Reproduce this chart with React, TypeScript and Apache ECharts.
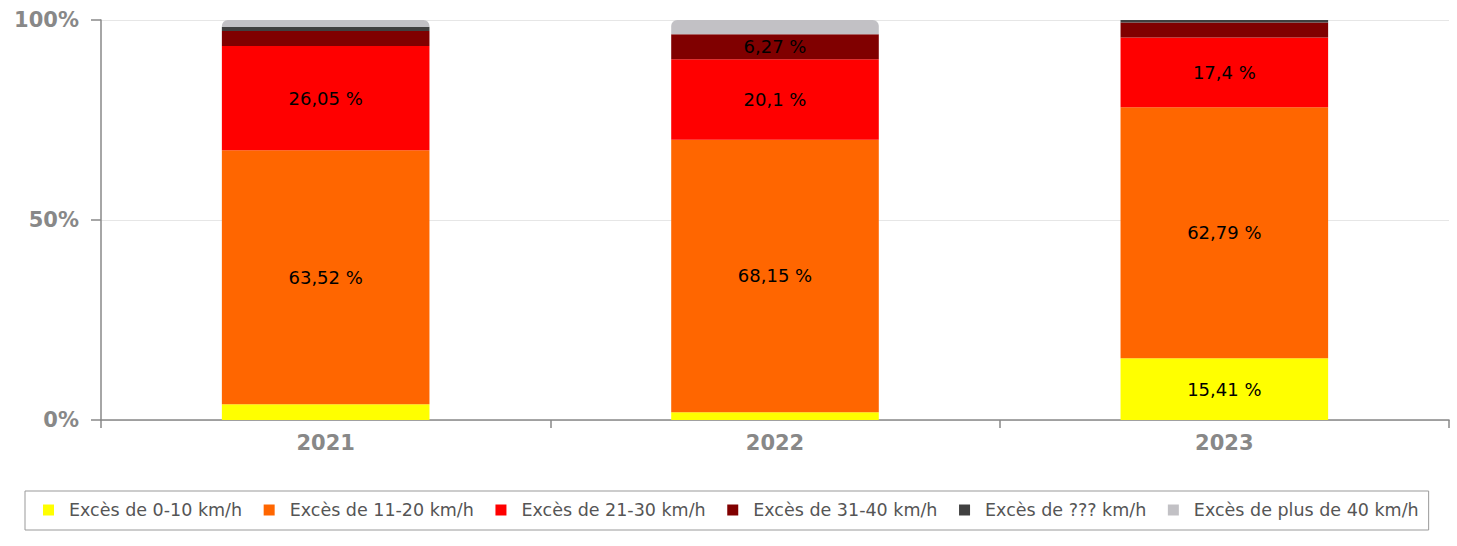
import React, { useEffect, useRef } from "react";
import * as echarts from "echarts";

const categories = ["2021", "2022", "2023"];
const seriesNames = [
  "Excès de 0-10 km/h",
  "Excès de 11-20 km/h",
  "Excès de 21-30 km/h",
  "Excès de 31-40 km/h",
  "Excès de ??? km/h",
  "Excès de plus de 40 km/h",
];
const exces0_10 = [3.93, 1.93, 15.41];
const exces11_20 = [63.52, 68.15, 62.79];
const exces21_30 = [26.05, 20.1, 17.4];
const exces31_40 = [3.75, 6.27, 3.8];
const excesUnknown = [1.0, 0, 0.6];
const excesPlus40 = [1.75, 3.55, 0];
const yTicks = [0, 50, 100];

const colors = ["#ffff00", "#ff6600", "#ff0000", "#800000", "#404040", "#c2c1c5"];
const FONT = "DejaVu Sans";

export default function App() {
  const ref = useRef<HTMLDivElement>(null);
  useEffect(() => {
    if (!ref.current) return;
    const chart = echarts.init(ref.current, null, { renderer: "svg" });
    const allData = [exces0_10, exces11_20, exces21_30, exces31_40, excesUnknown, excesPlus40];
    const series = allData.map((d, i) => ({
      name: seriesNames[i],
      type: "bar",
      stack: "total",
      barWidth: "46.2%",
      data: d,
      itemStyle: {
        color: colors[i],
        borderRadius: i === 5 ? [6, 6, 0, 0] : 0,
      },
      label: {
        show: true,
        position: "inside",
        color: "#000",
        fontFamily: FONT,
        fontSize: 18,
        formatter: (p: any) =>
          p.value >= 5 ? String(p.value).replace(".", ",") + " %" : "",
      },
      emphasis: { disabled: true },
    }));
    chart.setOption({
      animation: false,
      color: colors,
      textStyle: { fontFamily: FONT },
      grid: { left: 101, right: 8, top: 20, bottom: 126, containLabel: false },
      legend: {
        left: 25,
        top: 491,
        orient: "horizontal",
        borderColor: "#999",
        borderWidth: 1,
        padding: [10, 10, 11, 18],
        itemWidth: 11,
        itemHeight: 11,
        itemGap: 21.6,
        icon: "rect",
        textStyle: {
          fontFamily: FONT,
          fontSize: 17.5,
          color: "#555",
          padding: [0, 0, 0, 10],
        },
        data: seriesNames,
      },
      xAxis: {
        type: "category",
        data: categories,
        axisLine: { show: true, lineStyle: { color: "#888", width: 1.5 } },
        axisTick: { show: true, length: 8, lineStyle: { color: "#888", width: 1.5 } },
        axisLabel: {
          color: "#888",
          fontWeight: "bold",
          fontSize: 21,
          fontFamily: FONT,
          margin: 12,
        },
      },
      yAxis: {
        type: "value",
        min: yTicks[0],
        max: yTicks[yTicks.length - 1],
        interval: 50,
        axisLine: { show: true, lineStyle: { color: "#888", width: 1.5 } },
        axisTick: { show: true, length: 10, lineStyle: { color: "#888", width: 1.5 } },
        splitLine: { show: true, lineStyle: { color: "#e6e6e6", width: 1 } },
        axisLabel: {
          color: "#888",
          fontWeight: "bold",
          fontSize: 21,
          fontFamily: FONT,
          margin: 22,
          formatter: "{value}%",
        },
      },
      series,
    });
    return () => chart.dispose();
  }, []);
  return (
    <div
      ref={ref}
      style={{ position: "fixed", left: 0, top: 0, width: 1457, height: 546, background: "#fff" }}
    />
  );
}
